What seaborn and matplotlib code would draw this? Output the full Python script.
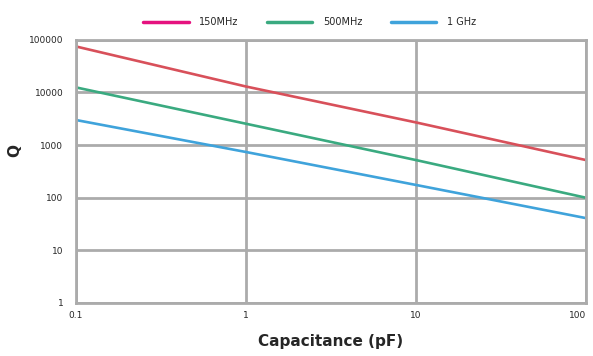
import matplotlib
matplotlib.use("Agg")
import matplotlib.pyplot as plt
from matplotlib.lines import Line2D
from matplotlib.ticker import FixedLocator, NullLocator
import seaborn as sns
import pandas as pd

capacitance = [0.1, 1, 10, 100]
q_150mhz = [75000, 13000, 2700, 520]
q_500mhz = [12500, 2550, 520, 100]
q_1ghz = [3000, 740, 175, 41]
series_names = ["150MHz", "500MHz", "1 GHz"]
line_colors = ["#d8505a", "#3aaa80", "#3fa3db"]
legend_colors = ["#e5127f", "#3aaa80", "#3fa3db"]
x_ticks = [0.1, 1, 10, 100]
x_tick_labels = ["0.1", "1", "10", "100"]
y_ticks = [1, 10, 100, 1000, 10000, 100000]
y_tick_labels = ["1", "10", "100", "1000", "10000", "100000"]

df = pd.DataFrame({
    "C": capacitance * 3,
    "Q": q_150mhz + q_500mhz + q_1ghz,
    "series": [n for n in series_names for _ in capacitance],
})

sns.set_style("white")
plt.rcParams["font.family"] = ["DejaVu Sans"]

fig = plt.figure(figsize=(5.93, 3.56), dpi=100)
ax = fig.add_axes([0.128, 0.149, 0.860, 0.739])

sns.lineplot(data=df, x="C", y="Q", hue="series", palette=line_colors,
             hue_order=series_names, linewidth=1.9, ax=ax, legend=False)

ax.set_xscale("log")
ax.set_yscale("log")
ax.set_xlim(0.1, 100)
ax.set_ylim(1, 100000)
ax.xaxis.set_major_locator(FixedLocator(x_ticks))
ax.yaxis.set_major_locator(FixedLocator(y_ticks))
ax.xaxis.set_minor_locator(NullLocator())
ax.yaxis.set_minor_locator(NullLocator())
ax.set_xticklabels(x_tick_labels, fontsize=6.5)
ax.set_yticklabels(y_tick_labels, fontsize=6.5)
ax.tick_params(axis="y", length=0, pad=9)
ax.tick_params(axis="x", length=0, pad=6)
xl = ax.get_xticklabels()
xl[-1].set_horizontalalignment("right")
ax.grid(True, which="major", color="#ababab", linewidth=2)
ax.set_axisbelow(True)
for s in ax.spines.values():
    s.set_color("#ababab")
    s.set_linewidth(2)

ax.set_xlabel("Capacitance (pF)", fontsize=11, fontweight="bold", labelpad=10)
ax.set_ylabel("Q", fontsize=11, fontweight="bold")
ax.yaxis.set_label_coords(-0.105, 0.58)

handles = [Line2D([0], [0], color=c, linewidth=2.5) for c in legend_colors]
fig.legend(handles, series_names, loc="center", bbox_to_anchor=(0.522, 0.938),
           ncol=3, frameon=False, fontsize=7, handlelength=4.7,
           columnspacing=2.9, handletextpad=1.1)

fig.savefig("out.png", dpi=100)
